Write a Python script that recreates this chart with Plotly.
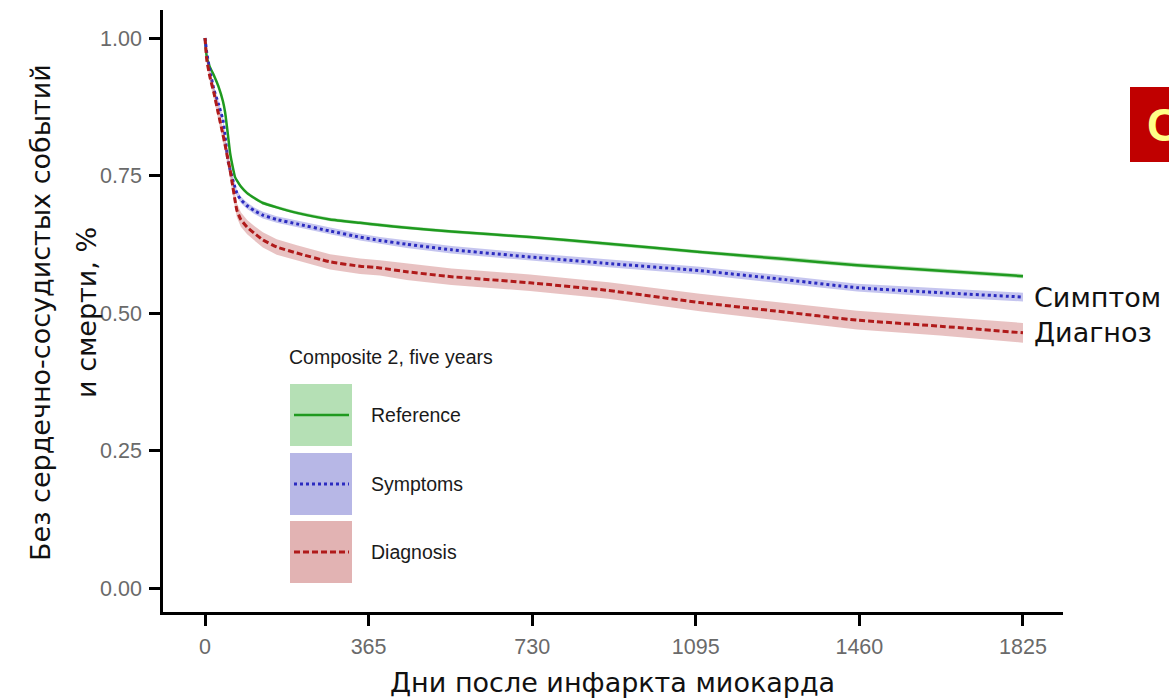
import plotly.graph_objects as go

# ---------------- data ----------------
days = [0, 4, 11, 20, 30, 40, 45, 51, 56, 62, 67, 71, 80, 94, 110, 129, 160, 205,
        279, 346, 390, 450, 550, 725, 900, 1104, 1280, 1455, 1640, 1825]

reference = [1.0, 0.965, 0.947, 0.932, 0.912, 0.885, 0.864, 0.825, 0.791, 0.765,
             0.747, 0.741, 0.730, 0.718, 0.709, 0.700, 0.692, 0.682, 0.670, 0.664,
             0.660, 0.655, 0.648, 0.638, 0.626, 0.611, 0.599, 0.587, 0.577, 0.567]

symptoms = [1.0, 0.973, 0.940, 0.906, 0.880, 0.851, 0.820, 0.778, 0.760, 0.742,
            0.728, 0.718, 0.706, 0.695, 0.686, 0.678, 0.670, 0.662, 0.649, 0.638,
            0.632, 0.625, 0.615, 0.602, 0.590, 0.577, 0.562, 0.546, 0.537, 0.529]

diagnosis = [1.0, 0.960, 0.929, 0.900, 0.862, 0.825, 0.805, 0.780, 0.760, 0.730,
             0.705, 0.687, 0.670, 0.656, 0.645, 0.633, 0.620, 0.609, 0.593, 0.585,
             0.582, 0.575, 0.566, 0.555, 0.541, 0.519, 0.503, 0.487, 0.476, 0.464]

# half-width of the confidence bands
reference_ci = [0.000, 0.002, 0.003, 0.003, 0.003, 0.003, 0.003, 0.003, 0.003, 0.003,
                0.003, 0.003, 0.003, 0.003, 0.003, 0.003, 0.003, 0.003, 0.003, 0.003,
                0.003, 0.003, 0.003, 0.003, 0.003, 0.003, 0.004, 0.004, 0.004, 0.004]
symptoms_ci = [0.000, 0.003, 0.005, 0.006, 0.006, 0.006, 0.006, 0.006, 0.006, 0.006,
               0.006, 0.006, 0.006, 0.006, 0.006, 0.006, 0.006, 0.006, 0.006, 0.006,
               0.006, 0.007, 0.007, 0.007, 0.007, 0.007, 0.007, 0.007, 0.008, 0.008]
diagnosis_ci = [0.000, 0.006, 0.010, 0.012, 0.013, 0.013, 0.013, 0.013, 0.013, 0.013,
                0.013, 0.013, 0.013, 0.013, 0.013, 0.014, 0.014, 0.014, 0.014, 0.014,
                0.014, 0.015, 0.015, 0.015, 0.015, 0.016, 0.016, 0.017, 0.017, 0.018]

x_ticks = [0, 365, 730, 1095, 1460, 1825]
y_ticks = [0.0, 0.25, 0.50, 0.75, 1.0]
y_tick_text = ["0.00", "0.25", "0.50", "0.75", "1.00"]

legend_title = "Composite 2, five years"
legend_names = ["Reference", "Symptoms", "Diagnosis"]
end_labels = ["Симптом", "Диагноз"]
x_title = "Дни после инфаркта миокарда"
y_title_lines = ["Без сердечно-сосудистых событий", "и смерти, %"]

# ---------------- styling ----------------
line_cols = ["#1f9a1f", "#2b2bc0", "#b01a1a"]
band_cols = ["rgba(60,170,60,0.35)", "rgba(90,90,210,0.35)", "rgba(190,80,80,0.35)"]
key_cols = ["#b5e0b5", "#b7b7e6", "#e2b3b3"]
dashes = ["solid", "3px,3px", "6px,3px"]
widths = [2.5, 3, 3]
RU_FONT = "DejaVu Sans"
RU_SIZE = 27

series = [reference, symptoms, diagnosis]
cis = [reference_ci, symptoms_ci, diagnosis_ci]

fig = go.Figure()
for vals, ci, lc, bc, dsh, w in zip(series, cis, line_cols, band_cols, dashes, widths):
    upper = [v + c for v, c in zip(vals, ci)]
    lower = [v - c for v, c in zip(vals, ci)]
    fig.add_trace(go.Scatter(x=days + days[::-1], y=upper + lower[::-1],
                             fill="toself", fillcolor=bc, line=dict(width=0),
                             mode="lines", hoverinfo="skip", showlegend=False))
    fig.add_trace(go.Scatter(x=days, y=vals, mode="lines",
                             line=dict(color=lc, width=w, dash=dsh, shape="spline", smoothing=0.4),
                             showlegend=False))

# plot area geometry (pixels)
L, R, T, B = 163, 1063, 10, 612
W, H = R - L, B - T


def px(xp):
    return (xp - L) / W


def py(yp):
    return (B - yp) / H


shapes = []
annotations = []

# custom legend
key_tops = [384, 453, 521]
for i, (name, kc, lc, dsh, w) in enumerate(zip(legend_names, key_cols, line_cols, dashes, widths)):
    top = key_tops[i]
    shapes.append(dict(type="rect", xref="paper", yref="paper",
                       x0=px(290), x1=px(352), y0=py(top + 62), y1=py(top),
                       fillcolor=kc, line=dict(width=0), layer="above"))
    cy = top + 31
    shapes.append(dict(type="line", xref="paper", yref="paper",
                       x0=px(294), x1=px(349), y0=py(cy), y1=py(cy),
                       line=dict(color=lc, width=w, dash=dsh), layer="above"))
    annotations.append(dict(text=name, xref="paper", yref="paper", x=px(369), y=py(cy),
                            xanchor="left", yanchor="middle", showarrow=False,
                            font=dict(family="Arial", size=19.5, color="#1a1a1a")))
annotations.append(dict(text=legend_title, xref="paper", yref="paper", x=px(287), y=py(357),
                        xanchor="left", yanchor="middle", showarrow=False,
                        font=dict(family="Arial", size=19.5, color="#1a1a1a")))

# end labels anchored to the final values
for lab, vals in zip(end_labels, [symptoms, diagnosis]):
    annotations.append(dict(text=lab, xref="x", yref="y", x=days[-1], y=vals[-1],
                            xanchor="left", yanchor="middle", xshift=10, showarrow=False,
                            borderpad=0,
                            font=dict(family=RU_FONT, size=RU_SIZE, color="#111111")))

# axis titles
annotations.append(dict(text=x_title, xref="paper", yref="paper", x=px(612), y=py(682),
                        xanchor="center", yanchor="middle", showarrow=False, borderpad=0,
                        font=dict(family=RU_FONT, size=RU_SIZE, color="#111111")))
for xpix, line in zip([40, 86], y_title_lines):
    annotations.append(dict(text=line, xref="paper", yref="paper", x=px(xpix), y=py(313),
                            xanchor="center", yanchor="middle", textangle=-90, showarrow=False,
                            borderpad=0,
                            font=dict(family=RU_FONT, size=RU_SIZE, color="#111111")))

# red "C" panel marker at top right
shapes.append(dict(type="rect", xref="paper", yref="paper",
                   x0=px(1130), x1=px(1200), y0=py(162), y1=py(87),
                   fillcolor="#c00000", line=dict(width=0), layer="above"))
annotations.append(dict(text="<b>C</b>", xref="paper", yref="paper", x=px(1145), y=py(125),
                        xanchor="left", yanchor="middle", showarrow=False,
                        font=dict(family="Arial", size=46, color="#ffff88")))

fig.update_layout(
    width=1169, height=700,
    margin=dict(l=L, r=1169 - R, t=T, b=700 - B),
    paper_bgcolor="white", plot_bgcolor="white",
    shapes=shapes, annotations=annotations, showlegend=False,
    xaxis=dict(range=[-93.7, 1914.3], tickvals=x_ticks, ticktext=[str(t) for t in x_ticks],
               showline=True, linecolor="black", linewidth=2.5, ticks="outside",
               ticklen=11, tickwidth=2.5, tickcolor="black", showgrid=False, zeroline=False,
               tickfont=dict(family="Arial", size=21.5, color="#6a6a6a"), ticklabelstandoff=2),
    yaxis=dict(range=[-0.0436, 1.0509], tickvals=y_ticks, ticktext=y_tick_text,
               showline=True, linecolor="black", linewidth=2.5, ticks="outside",
               ticklen=11, tickwidth=2.5, tickcolor="black", showgrid=False, zeroline=False,
               tickfont=dict(family="Arial", size=21.5, color="#6a6a6a"), ticklabelstandoff=3),
)

fig.write_html("out.html")
